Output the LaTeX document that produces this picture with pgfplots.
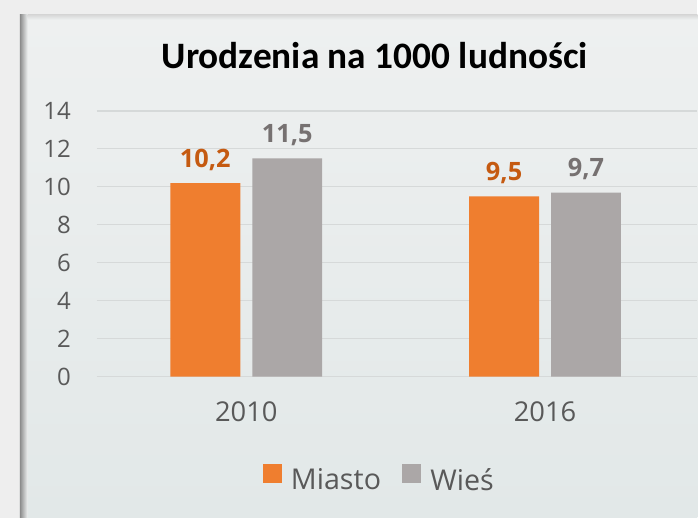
\documentclass[border=0pt]{standalone}
\usepackage{pgfplots}
\pgfplotsset{compat=1.18}
\usepackage{fontspec}
\setmainfont{Open Sans}
\newfontfamily\titlefont{Carlito}
\usetikzlibrary{backgrounds}
\definecolor{miasto}{HTML}{EF7E2F}
\definecolor{wies}{HTML}{ABA7A7}
\definecolor{labo}{HTML}{C55A11}
\definecolor{labg}{HTML}{767171}
\definecolor{tickc}{HTML}{595959}
\definecolor{gridc}{HTML}{D6D9D9}
\definecolor{outerbg}{HTML}{EEEEEE}
\definecolor{paneltop}{HTML}{EEF0F0}
\definecolor{panelbot}{HTML}{E2E8E8}
\begin{document}
\begin{tikzpicture}
\begin{axis}[
  name=ax, scale only axis,
  width=450.75pt, height=199.5pt,
  ybar=9pt, bar width=52.5pt,
  xmin=-0.5, xmax=1.51, ymin=0, ymax=14,
  ytick={0,2,...,14},
  xtick={0,1}, xticklabels={2010,2016},
  axis line style={draw=none}, major tick length=0pt,
  ymajorgrids, grid style={draw=gridc, line width=0.9pt},
  /pgf/number format/assume math mode=true,
  y tick label style={font=\fontsize{18}{20}\selectfont, text=tickc, xshift=-16pt},
  x tick label style={font=\fontsize{20.5}{23}\selectfont, text=tickc, yshift=-15pt},
  title={\titlefont\bfseries Urodzenia na 1000 ludności},
  title style={at={(0.4626,1.18)}, anchor=center, font=\fontsize{28}{30}\selectfont},
  nodes near coords={\pgfmathprintnumber[use comma,fixed,fixed zerofill,precision=1]{\pgfplotspointmeta}},
  nodes near coords style={font=\bfseries\fontsize{19}{21}\selectfont, anchor=south, yshift=6pt},
  legend style={draw=none, fill=none, at={(0.471,-0.387)}, anchor=center,
    legend columns=-1, font=\fontsize{21.5}{24}\selectfont, text=tickc,
    /tikz/every odd column/.append style={column sep=5pt},
    /tikz/every even column/.append style={column sep=14pt}},
  legend image code/.code={\fill[#1] (0pt,-2pt) rectangle (14pt,12pt);},
  clip=false,
]
\addplot[fill=miasto, draw=none, every node near coord/.append style={text=labo}]
  coordinates {(0,10.2) (1,9.5)};
\addlegendentry{Miasto}
\addplot[fill=wies, draw=none, every node near coord/.append style={text=labg}]
  coordinates {(0,11.5) (1,9.7)};
\addlegendentry{Wieś}
\end{axis}
\begin{scope}[on background layer]
  \fill[outerbg] ([xshift=-72.75pt,yshift=-105.75pt]ax.south west) rectangle ([xshift=450.75pt,yshift=282.75pt]ax.south west);
  \shade[top color=paneltop, bottom color=panelbot] ([xshift=-57.75pt,yshift=-105.75pt]ax.south west) rectangle ([xshift=450.75pt,yshift=271.5pt]ax.south west);
  \shade[left color=black!45, right color=paneltop] ([xshift=-57.75pt,yshift=-105.75pt]ax.south west) rectangle ([xshift=-52pt,yshift=271.5pt]ax.south west);
  \shade[top color=black!15, bottom color=paneltop] ([xshift=-52pt,yshift=271.5pt]ax.south west) rectangle ([xshift=450.75pt,yshift=268pt]ax.south west);
\end{scope}
\end{tikzpicture}
\end{document}
